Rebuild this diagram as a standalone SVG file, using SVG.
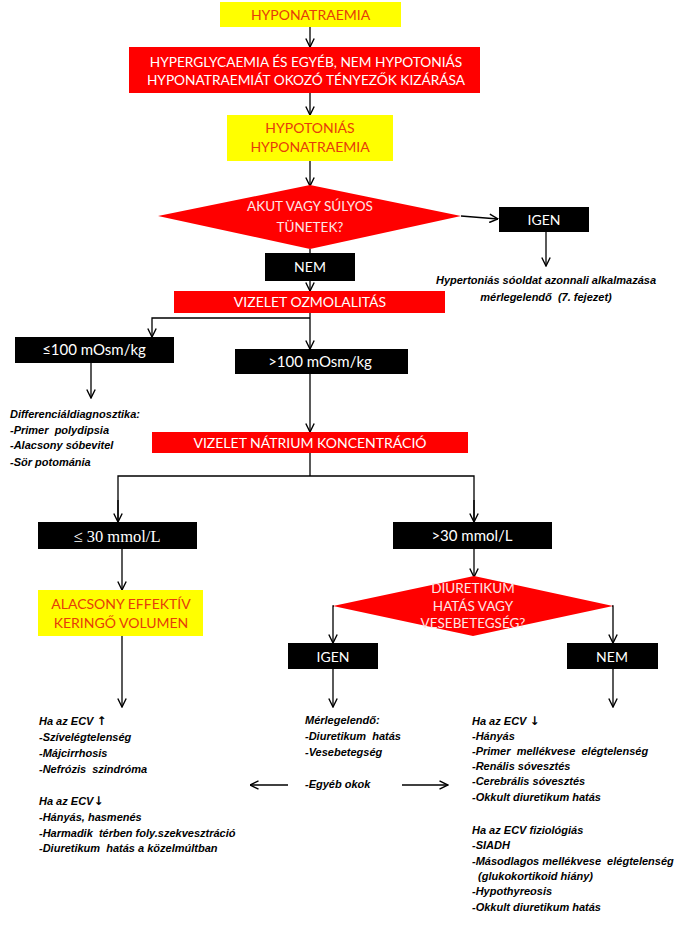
<svg xmlns="http://www.w3.org/2000/svg" width="691" height="925" viewBox="0 0 691 925">
<defs>
<style>
.yel{fill:#ffff00}
.red{fill:#ff0000}
.blk{fill:#000000}
.ty{font-family:Lato,"Open Sans",sans-serif;font-size:14px;fill:#e63c0a;text-anchor:middle}
.tw{font-family:Lato,"Open Sans",sans-serif;font-size:14px;fill:#ffffff;text-anchor:middle}
.td{font-family:Lato,"Open Sans",sans-serif;font-size:13.5px;fill:#fde6e6;text-anchor:middle}
.tm{font-family:"Liberation Serif","DejaVu Serif",serif;font-size:16.5px;fill:#ffffff;text-anchor:middle}
.tl{font-family:"Liberation Sans",Arial,sans-serif;font-size:11px;font-style:italic;font-weight:bold;fill:#000000}
.ar{font-family:"DejaVu Sans",sans-serif;font-style:normal;font-weight:bold;font-size:12px}
.tc{text-anchor:middle}
.ln{fill:none;stroke:#000000;stroke-width:1.3}
</style>
<marker id="ah" viewBox="0 0 10 10" refX="9.5" refY="5" markerWidth="10" markerHeight="10" markerUnits="userSpaceOnUse" orient="auto">
<path d="M1,0.8 L9.5,5 L1,9.2" fill="none" stroke="#000000" stroke-width="1.4"/>
</marker>
</defs>
<rect width="691" height="925" fill="#ffffff"/>

<g id="connectors">
<line class="ln" x1="310" y1="27" x2="310" y2="47" marker-end="url(#ah)"/>
<line class="ln" x1="310" y1="93" x2="310" y2="115" marker-end="url(#ah)"/>
<line class="ln" x1="310" y1="161" x2="310" y2="186" marker-end="url(#ah)"/>
<line class="ln" x1="461" y1="216" x2="498" y2="219" marker-end="url(#ah)"/>
<line class="ln" x1="546" y1="232" x2="546" y2="266" marker-end="url(#ah)"/>
<line class="ln" x1="310" y1="249" x2="310" y2="253"/>
<line class="ln" x1="310" y1="281" x2="310" y2="291" marker-end="url(#ah)"/>
<line class="ln" x1="310" y1="313" x2="310" y2="349" marker-end="url(#ah)"/>
<polyline class="ln" points="310,318 152,318 152,337" marker-end="url(#ah)"/>
<line class="ln" x1="91" y1="363" x2="91" y2="398" marker-end="url(#ah)"/>
<line class="ln" x1="310" y1="374" x2="310" y2="432" marker-end="url(#ah)"/>
<line class="ln" x1="310" y1="453" x2="310" y2="476"/>
<polyline class="ln" points="118,522 118,476 474,476 474,522"/>
<line class="ln" x1="118" y1="500" x2="118" y2="522" marker-end="url(#ah)"/>
<line class="ln" x1="474" y1="500" x2="474" y2="522" marker-end="url(#ah)"/>
<line class="ln" x1="122" y1="549" x2="122" y2="590" marker-end="url(#ah)"/>
<line class="ln" x1="474" y1="549" x2="474" y2="577" marker-end="url(#ah)"/>
<polyline class="ln" points="334,606 333,606 333,643" marker-end="url(#ah)"/>
<polyline class="ln" points="612,606 613,606 613,643" marker-end="url(#ah)"/>
<line class="ln" x1="122" y1="636" x2="122" y2="707" marker-end="url(#ah)"/>
<line class="ln" x1="333" y1="669" x2="333" y2="707" marker-end="url(#ah)"/>
<line class="ln" x1="613" y1="669" x2="613" y2="707" marker-end="url(#ah)"/>
<line class="ln" x1="288" y1="785" x2="250" y2="785" marker-end="url(#ah)"/>
<line class="ln" x1="402" y1="785" x2="448" y2="785" marker-end="url(#ah)"/>
</g>

<g id="n-hyponatraemia">
<rect class="yel" x="220" y="2" width="181" height="25"/>
<text class="ty" x="310.5" y="19.5">HYPONATRAEMIA</text>
</g>

<g id="n-kizaras">
<rect class="red" x="129" y="47" width="351" height="46"/>
<text class="tw" x="306" y="67" style="font-size:13.7px">HYPERGLYCAEMIA ÉS EGYÉB, NEM HYPOTONIÁS</text>
<text class="tw" x="306" y="85" style="font-size:13.7px">HYPONATRAEMIÁT OKOZÓ TÉNYEZŐK KIZÁRÁSA</text>
</g>

<g id="n-hypotonias">
<rect class="yel" x="227" y="115" width="166" height="46"/>
<text class="ty" x="310" y="133">HYPOTONIÁS</text>
<text class="ty" x="310" y="152">HYPONATRAEMIA</text>
</g>

<g id="n-akut">
<polygon class="red" points="310,185 461,216 310,249 158,216"/>
<text class="td" x="310" y="211">AKUT VAGY SÚLYOS</text>
<text class="td" x="310" y="232">TÜNETEK?</text>
</g>

<g id="n-igen1">
<rect class="blk" x="499" y="207" width="90" height="25"/>
<text class="tw" x="544" y="224.5">IGEN</text>
</g>

<g id="n-hypertonias">
<text class="tl tc" x="546" y="284">Hypertoniás sóoldat azonnali alkalmazása</text>
<text class="tl tc" x="546" y="301">mérlegelendő&#160; (7. fejezet)</text>
</g>

<g id="n-nem1">
<rect class="blk" x="265" y="253" width="90" height="28"/>
<text class="tw" x="310" y="272">NEM</text>
</g>

<g id="n-ozmolalitas">
<rect class="red" x="174" y="291" width="271" height="22"/>
<text class="tw" x="310" y="307">VIZELET OZMOLALITÁS</text>
</g>

<g id="n-le100">
<rect class="blk" x="15" y="337" width="159" height="26"/>
<text class="tw" x="94" y="355" style="font-size:15px">≤100 mOsm/kg</text>
</g>

<g id="n-diff">
<text class="tl" x="10" y="418">Differenciáldiagnosztika:</text>
<text class="tl" x="10" y="433.5">-Primer&#160; polydipsia</text>
<text class="tl" x="10" y="449">-Alacsony sóbevitel</text>
<text class="tl" x="10" y="466">-Sör potománia</text>
</g>

<g id="n-gt100">
<rect class="blk" x="235" y="349" width="173" height="25"/>
<text class="tw" x="320" y="367" style="font-size:15px">&gt;100 mOsm/kg</text>
</g>

<g id="n-natrium">
<rect class="red" x="152" y="432" width="316" height="21"/>
<text class="tw" x="310" y="447.5">VIZELET NÁTRIUM KONCENTRÁCIÓ</text>
</g>

<g id="n-le30">
<rect class="blk" x="38" y="522" width="159" height="27"/>
<text class="tm" x="117" y="541.5">≤ 30 mmol/L</text>
</g>

<g id="n-gt30">
<rect class="blk" x="393" y="522" width="159" height="27"/>
<text class="tw" x="472" y="540.5" style="font-size:15px">&gt;30 mmol/L</text>
</g>

<g id="n-alacsony">
<rect class="yel" x="38" y="590" width="165" height="46"/>
<text class="ty" x="121" y="609">ALACSONY EFFEKTÍV</text>
<text class="ty" x="121" y="628">KERINGŐ VOLUMEN</text>
</g>

<g id="n-diuretikum">
<polygon class="red" points="474,576 613,606 473,636 333,606"/>
<text class="td" x="473" y="592.5">DIURETIKUM</text>
<text class="td" x="473" y="610.5">HATÁS VAGY</text>
<text class="td" x="473" y="628">VESEBETEGSÉG?</text>
</g>

<g id="n-igen2">
<rect class="blk" x="288" y="643" width="90" height="26"/>
<text class="tw" x="333" y="661.5">IGEN</text>
</g>

<g id="n-nem2">
<rect class="blk" x="567" y="643" width="91" height="26"/>
<text class="tw" x="612" y="661.5">NEM</text>
</g>

<g id="n-bal-lista">
<text class="tl" x="39" y="725">Ha az ECV <tspan class="ar">↑</tspan></text>
<text class="tl" x="39" y="741">-Szívelégtelenség</text>
<text class="tl" x="39" y="757">-Májcirrhosis</text>
<text class="tl" x="39" y="773">-Nefrózis&#160; szindróma</text>
<text class="tl" x="39" y="805">Ha az ECV<tspan class="ar">↓</tspan></text>
<text class="tl" x="39" y="821">-Hányás, hasmenés</text>
<text class="tl" x="39" y="837">-Harmadik&#160; térben foly.szekvesztráció</text>
<text class="tl" x="39" y="852">-Diuretikum&#160; hatás a közelmúltban</text>
</g>

<g id="n-kozep-lista">
<text class="tl" x="305" y="724">Mérlegelendő:</text>
<text class="tl" x="305" y="740">-Diuretikum&#160; hatás</text>
<text class="tl" x="305" y="756">-Vesebetegség</text>
<text class="tl" x="305" y="788">-Egyéb okok</text>
</g>

<g id="n-jobb-lista">
<text class="tl" x="472" y="725">Ha az ECV <tspan class="ar">↓</tspan></text>
<text class="tl" x="472" y="740">-Hányás</text>
<text class="tl" x="472" y="755">-Primer&#160; mellékvese&#160; elégtelenség</text>
<text class="tl" x="472" y="770">-Renális sóvesztés</text>
<text class="tl" x="472" y="785">-Cerebrális sóvesztés</text>
<text class="tl" x="472" y="801">-Okkult diuretikum hatás</text>
<text class="tl" x="472" y="834">Ha az ECV fiziológiás</text>
<text class="tl" x="472" y="849">-SIADH</text>
<text class="tl" x="472" y="865">-Másodlagos mellékvese&#160; elégtelenség</text>
<text class="tl" x="472" y="880">&#160;&#160;(glukokortikoid hiány)</text>
<text class="tl" x="472" y="895">-Hypothyreosis</text>
<text class="tl" x="472" y="911">-Okkult diuretikum hatás</text>
</g>
</svg>
